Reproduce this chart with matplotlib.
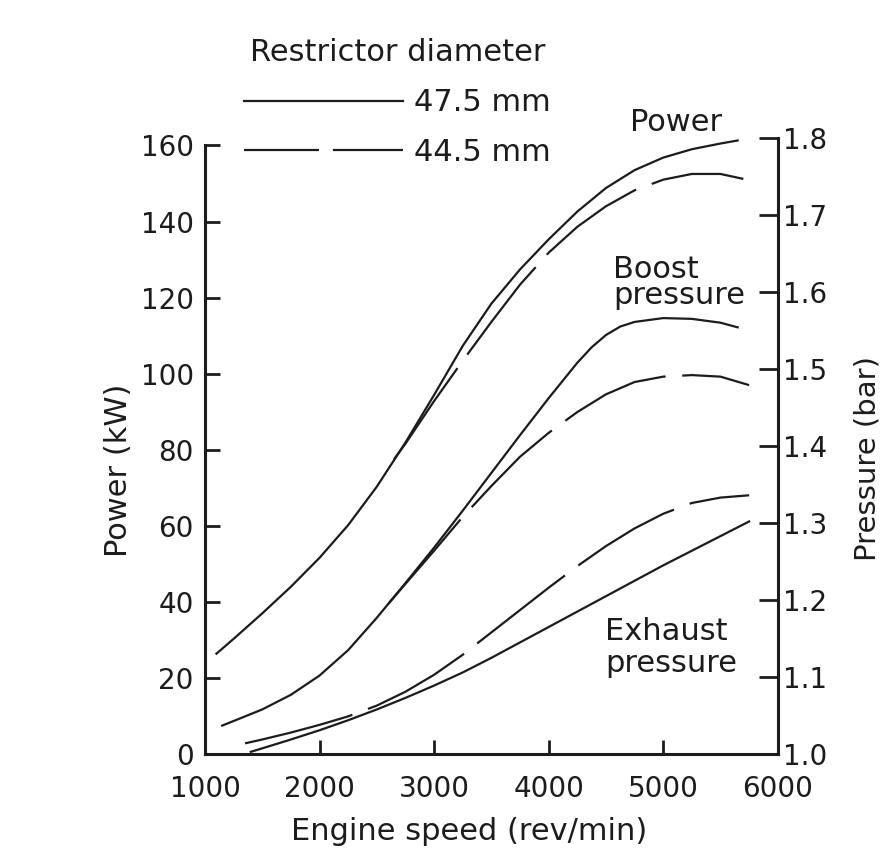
import matplotlib.pyplot as plt
from matplotlib.lines import Line2D

plt.rcParams['font.family'] = 'DejaVu Sans'
plt.rcParams['lines.scale_dashes'] = False

# Power (kW) against engine speed, restrictor 47.5 mm
rpm_power_475 = [1100, 1250, 1500, 1750, 2000, 2250, 2500, 2750, 3000, 3250,
                 3500, 3750, 4000, 4250, 4500, 4750, 5000, 5250, 5500, 5650]
power_475 = [26.4, 30.3, 37.0, 44.0, 51.6, 60.2, 70.3, 81.9, 94.4, 107.3,
             118.4, 127.4, 135.3, 142.6, 148.8, 153.5, 156.8, 159.0, 160.5, 161.3]

# Power (kW), restrictor 44.5 mm
rpm_power_445 = [2650, 2750, 3000, 3250, 3500, 3750, 4000, 4250, 4500, 4750,
                 5000, 5250, 5500, 5700]
power_445 = [77.5, 81.6, 92.8, 103.4, 113.6, 123.4, 131.8, 138.6, 144.0, 148.2,
             151.0, 152.5, 152.5, 151.2]

# Boost pressure (bar)
rpm_boost_475 = [1150, 1250, 1500, 1750, 2000, 2250, 2500, 2750, 3000, 3250,
                 3500, 3750, 4000, 4250, 4375, 4500, 4625, 4750, 5000, 5250,
                 5500, 5650]
boost_475 = [1.037, 1.043, 1.058, 1.077, 1.102, 1.135, 1.177, 1.222, 1.268, 1.316,
             1.365, 1.414, 1.462, 1.508, 1.528, 1.544, 1.555, 1.561, 1.566, 1.565,
             1.560, 1.554]

rpm_boost_445 = [2600, 2750, 3000, 3250, 3500, 3750, 4000, 4250, 4500, 4750,
                 5000, 5250, 5500, 5750]
boost_445 = [1.195, 1.221, 1.264, 1.308, 1.348, 1.386, 1.417, 1.444, 1.467, 1.483,
             1.490, 1.492, 1.490, 1.479]

# Exhaust pressure (bar)
rpm_exhaust_475 = [1400, 1500, 1750, 2000, 2250, 2500, 2750, 3000, 3250, 3500,
                   3750, 4000, 4250, 4500, 4750, 5000, 5250, 5500, 5750]
exhaust_475 = [1.003, 1.0075, 1.019, 1.031, 1.044, 1.058, 1.073, 1.089, 1.106, 1.125,
               1.145, 1.165, 1.185, 1.205, 1.225, 1.245, 1.264, 1.283, 1.302]

rpm_exhaust_445 = [1350, 1500, 1750, 2000, 2250, 2500, 2750, 3000, 3250, 3500,
                   3750, 4000, 4250, 4500, 4750, 5000, 5250, 5500, 5750]
exhaust_445 = [1.014, 1.019, 1.028, 1.038, 1.049, 1.063, 1.081, 1.103, 1.129, 1.158,
               1.187, 1.216, 1.244, 1.270, 1.293, 1.312, 1.326, 1.333, 1.336]

speed_ticks = [1000, 2000, 3000, 4000, 5000, 6000]
power_ticks = [0, 20, 40, 60, 80, 100, 120, 140, 160]
pressure_ticks = [1.0, 1.1, 1.2, 1.3, 1.4, 1.5, 1.6, 1.7, 1.8]

ink = '#1c1c1c'
lw = 1.6
dash = (80, 12)

fig = plt.figure(figsize=(8.95, 8.56), dpi=100)
ax = fig.add_axes([0.229, 0.119, 0.640, 0.720])
ax2 = ax.twinx()

ax.plot(rpm_power_475, power_475, color=ink, lw=lw)
ax.plot(rpm_power_445, power_445, color=ink, lw=lw, dashes=dash)
ax2.plot(rpm_boost_475, boost_475, color=ink, lw=lw)
ax2.plot(rpm_boost_445, boost_445, color=ink, lw=lw, dashes=dash)
ax2.plot(rpm_exhaust_475, exhaust_475, color=ink, lw=lw)
ax2.plot(rpm_exhaust_445, exhaust_445, color=ink, lw=lw, dashes=dash)

ax.set_xlim(1000, 6000)
ax.set_ylim(0, 162)
ax2.set_ylim(1.0, 1.8)

# open-topped frame: power scale on the left, pressure on the right
ax.spines['top'].set_visible(False)
ax.spines['right'].set_visible(False)
ax2.spines['top'].set_visible(False)
ax2.spines['left'].set_visible(False)
ax2.spines['bottom'].set_visible(False)
ax.spines['left'].set_bounds(0, 160)
for sp in (ax.spines['left'], ax.spines['bottom'], ax2.spines['right']):
    sp.set_linewidth(2.2)
    sp.set_color(ink)

ax.set_xticks(speed_ticks)
ax.set_yticks(power_ticks)
ax2.set_yticks(pressure_ticks)
ax2.yaxis.set_major_formatter('{x:.1f}')

ax.tick_params(axis='x', direction='in', length=10, width=2, labelsize=20,
               pad=15, colors=ink)
ax.tick_params(axis='y', direction='in', length=11, width=2, labelsize=20,
               pad=8, colors=ink)
ax2.tick_params(axis='y', direction='in', length=14, width=2, labelsize=20,
                pad=4, colors=ink)

ax.set_xlabel('Engine speed (rev/min)', fontsize=22, color=ink)
ax.set_ylabel('Power (kW)', fontsize=22, color=ink)
ax2.set_ylabel('Pressure (bar)', fontsize=21, color=ink)
ax.xaxis.set_label_coords(0.461, -0.102)
ax.yaxis.set_label_coords(-0.125, 0.46)
ax2.yaxis.set_label_coords(1.133, 0.48)

ax.text(5110, 166, 'Power', fontsize=22, color=ink, ha='center', va='center')
ax.text(4560, 124, 'Boost\npressure', fontsize=22, color=ink, ha='left',
        va='center', linespacing=0.9)
ax.text(4490, 28, 'Exhaust\npressure', fontsize=22, color=ink, ha='left',
        va='center', linespacing=1.1)

handles = [Line2D([], [], color=ink, lw=lw),
           Line2D([], [], color=ink, lw=lw, dashes=(54, 10))]
leg = fig.legend(handles, ['47.5 mm', '44.5 mm'], title='Restrictor diameter',
                 loc='center', bbox_to_anchor=(0.444, 0.880), frameon=False,
                 fontsize=22, title_fontsize=22, handlelength=5.2,
                 handletextpad=0.35, labelspacing=0.68, borderpad=0)
leg.get_title().set_color(ink)
for t in leg.get_texts():
    t.set_color(ink)

fig.savefig('out.png', dpi=100)
